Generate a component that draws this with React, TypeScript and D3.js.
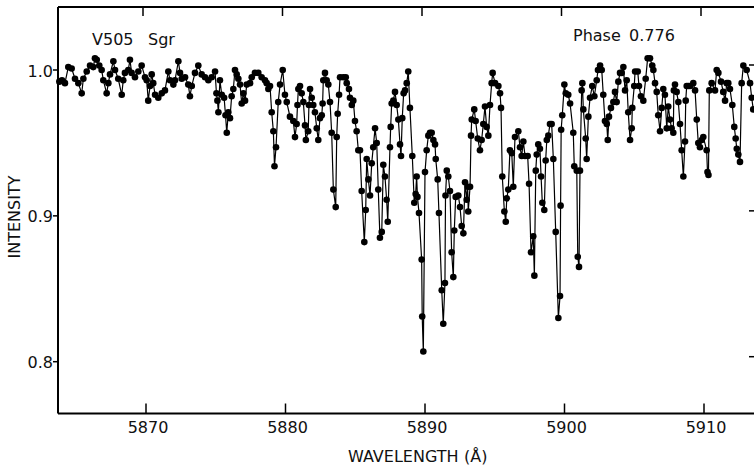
import React from 'react';
import * as d3 from 'd3';

// wavelength (Å), relative intensity
const spectrum: [number, number][] = [
  [5863.79,0.992],[5863.98,0.993],[5864.19,0.991],[5864.43,1.002],[5864.67,1.001],[5864.91,0.994],[5865.15,0.991],[5865.39,0.984],
  [5865.51,0.994],[5865.75,0.999],[5865.99,1.003],[5866.22,1.002],[5866.34,1.008],[5866.47,1.007],[5866.65,1.003],[5866.82,1.000],
  [5866.94,0.993],[5867.18,0.984],[5867.30,0.991],[5867.42,0.997],[5867.66,1.006],[5867.78,1.000],[5868.01,0.994],[5868.26,0.983],
  [5868.37,0.993],[5868.49,0.998],[5868.73,1.000],[5868.85,1.007],[5868.97,0.998],[5869.21,0.995],[5869.45,0.999],[5869.69,1.003],
  [5869.93,0.995],[5870.05,0.993],[5870.16,0.979],[5870.29,0.989],[5870.41,0.997],[5870.52,0.991],[5870.65,0.983],[5870.88,0.981],
  [5871.13,0.984],[5871.36,0.986],[5871.60,0.999],[5871.72,0.993],[5871.96,0.990],[5872.08,0.993],[5872.32,1.006],[5872.44,0.998],
  [5872.56,0.994],[5872.80,0.995],[5873.03,0.990],[5873.15,0.982],[5873.28,0.989],[5873.51,0.998],[5873.75,1.003],[5873.99,0.997],
  [5874.23,0.995],[5874.47,0.993],[5874.71,0.995],[5874.95,0.999],[5875.05,0.984],[5875.12,0.979],[5875.19,0.971],[5875.30,0.993],
  [5875.43,0.983],[5875.60,0.981],[5875.70,0.969],[5875.79,0.957],[5875.90,0.971],[5876.02,0.967],[5876.14,0.982],[5876.26,0.987],
  [5876.38,1.000],[5876.50,0.997],[5876.62,0.994],[5876.74,0.990],[5876.86,0.977],[5876.98,0.984],[5877.10,0.979],[5877.22,0.990],
  [5877.46,0.991],[5877.58,0.995],[5877.81,0.998],[5878.05,0.998],[5878.29,0.995],[5878.53,0.993],[5878.65,0.991],[5878.77,0.987],
  [5878.89,0.989],[5879.01,0.971],[5879.13,0.958],[5879.21,0.934],[5879.32,0.947],[5879.48,0.978],[5879.61,0.990],[5879.80,1.000],
  [5879.96,0.983],[5880.09,0.978],[5880.32,0.968],[5880.56,0.965],[5880.68,0.954],[5880.80,0.963],[5880.86,0.976],[5880.92,0.987],
  [5881.04,0.989],[5881.16,0.984],[5881.28,0.978],[5881.40,0.962],[5881.46,0.952],[5881.63,0.958],[5881.68,0.976],[5881.76,0.987],
  [5881.88,0.981],[5881.99,0.976],[5882.11,0.971],[5882.24,0.960],[5882.35,0.952],[5882.47,0.967],[5882.60,0.969],[5882.66,0.977],
  [5882.71,0.993],[5882.83,0.998],[5882.95,0.993],[5883.07,0.990],[5883.19,0.978],[5883.31,0.957],[5883.43,0.918],[5883.60,0.906],
  [5883.67,0.954],[5883.74,0.970],[5883.84,0.983],[5883.91,0.995],[5884.14,0.995],[5884.32,0.995],[5884.39,0.991],[5884.55,0.987],
  [5884.62,0.981],[5884.75,0.976],[5884.86,0.979],[5884.98,0.965],[5885.10,0.958],[5885.22,0.945],[5885.34,0.945],[5885.46,0.917],
  [5885.65,0.882],[5885.75,0.904],[5885.82,0.939],[5885.94,0.925],[5886.06,0.914],[5886.18,0.936],[5886.29,0.947],[5886.42,0.960],
  [5886.54,0.950],[5886.65,0.918],[5886.77,0.885],[5886.90,0.889],[5887.01,0.935],[5887.13,0.927],[5887.25,0.911],[5887.33,0.896],
  [5887.49,0.947],[5887.54,0.961],[5887.61,0.977],[5887.73,0.979],[5887.85,0.985],[5887.97,0.976],[5888.09,0.966],[5888.21,0.949],
  [5888.28,0.941],[5888.37,0.967],[5888.47,0.984],[5888.57,0.986],[5888.69,0.991],[5888.80,0.999],[5888.92,0.974],[5889.09,0.941],
  [5889.23,0.909],[5889.33,0.915],[5889.40,0.927],[5889.46,0.913],[5889.57,0.902],[5889.76,0.870],[5889.80,0.831],[5889.88,0.807],
  [5890.00,0.930],[5890.12,0.945],[5890.24,0.955],[5890.36,0.957],[5890.48,0.957],[5890.60,0.952],[5890.72,0.949],[5890.77,0.939],
  [5890.91,0.925],[5891.00,0.902],[5891.20,0.849],[5891.31,0.826],[5891.43,0.854],[5891.47,0.914],[5891.56,0.931],[5891.67,0.927],
  [5891.79,0.917],[5891.91,0.875],[5892.03,0.858],[5892.10,0.890],[5892.20,0.913],[5892.39,0.914],[5892.51,0.906],[5892.63,0.893],
  [5892.75,0.888],[5892.87,0.923],[5892.99,0.911],[5893.06,0.920],[5893.10,0.903],[5893.23,0.920],[5893.30,0.955],[5893.35,0.966],
  [5893.53,0.973],[5893.63,0.965],[5893.78,0.953],[5893.94,0.945],[5894.06,0.952],[5894.18,0.963],[5894.30,0.975],[5894.42,0.961],
  [5894.54,0.955],[5894.66,0.976],[5894.78,0.991],[5894.85,0.998],[5895.02,0.991],[5895.26,0.989],[5895.38,0.984],[5895.45,0.974],
  [5895.54,0.927],[5895.69,0.903],[5895.79,0.896],[5895.86,0.912],[5895.97,0.918],[5896.09,0.945],[5896.22,0.943],[5896.33,0.920],
  [5896.45,0.954],[5896.69,0.958],[5896.81,0.947],[5896.93,0.941],[5897.05,0.951],[5897.17,0.941],[5897.36,0.941],[5897.46,0.922],
  [5897.60,0.875],[5897.76,0.886],[5897.84,0.859],[5897.94,0.931],[5898.01,0.942],[5898.12,0.949],[5898.24,0.946],[5898.32,0.927],
  [5898.41,0.909],[5898.55,0.904],[5898.65,0.938],[5898.73,0.952],[5898.84,0.955],[5898.96,0.963],[5899.08,0.963],[5899.20,0.939],
  [5899.37,0.889],[5899.56,0.830],[5899.68,0.845],[5899.72,0.907],[5899.76,0.959],[5899.84,0.969],[5899.99,0.990],[5900.09,0.984],
  [5900.27,0.983],[5900.40,0.977],[5900.63,0.957],[5900.70,0.934],[5900.88,0.931],[5900.95,0.872],[5901.04,0.865],[5901.11,0.931],
  [5901.23,0.986],[5901.28,0.991],[5901.35,0.973],[5901.52,0.953],[5901.59,0.939],[5901.71,0.968],[5901.83,0.981],[5901.99,0.989],
  [5902.14,0.982],[5902.31,0.993],[5902.40,1.000],[5902.55,1.003],[5902.67,1.000],[5902.78,0.983],[5902.90,0.965],[5903.03,0.963],
  [5903.10,0.952],[5903.19,0.968],[5903.33,0.974],[5903.50,0.978],[5903.62,0.985],[5903.74,0.978],[5903.86,0.992],[5903.98,0.998],
  [5904.10,0.998],[5904.22,1.002],[5904.34,0.986],[5904.46,0.993],[5904.57,0.971],[5904.70,0.952],[5904.82,0.960],[5904.86,0.974],
  [5905.00,0.989],[5905.06,0.999],[5905.25,0.999],[5905.34,0.989],[5905.48,0.982],[5905.65,0.979],[5905.82,0.994],[5905.96,1.008],
  [5906.13,1.008],[5906.29,1.003],[5906.37,1.000],[5906.49,0.991],[5906.61,0.985],[5906.72,0.969],[5906.85,0.958],[5906.97,0.974],
  [5907.08,0.987],[5907.20,0.983],[5907.33,0.960],[5907.44,0.975],[5907.56,0.966],[5907.68,0.960],[5907.80,0.957],[5907.84,0.986],
  [5907.92,0.990],[5908.04,0.985],[5908.16,0.978],[5908.28,0.963],[5908.40,0.945],[5908.52,0.927],[5908.64,0.951],[5908.69,0.979],
  [5908.76,0.989],[5908.88,0.989],[5909.00,0.989],[5909.23,0.991],[5909.36,0.986],[5909.48,0.966],[5909.59,0.950],[5909.71,0.947],
  [5909.84,0.952],[5909.95,0.954],[5910.19,0.945],[5910.25,0.930],[5910.32,0.928],[5910.38,0.986],[5910.55,0.991],[5910.79,0.986],
  [5910.91,1.000],[5911.03,0.998],[5911.22,0.992],[5911.38,0.985],[5911.51,0.979],[5911.63,0.991],[5911.74,0.991],[5911.86,0.987],
  [5912.03,0.976],[5912.17,0.961],[5912.27,0.953],[5912.35,0.946],[5912.46,0.942],[5912.58,0.937],[5912.70,0.991],[5912.82,1.003],
  [5913.06,1.000],[5913.30,0.991],[5913.42,0.981],[5913.53,0.973],
];

const xTicks = [5870, 5880, 5890, 5900, 5910];
const yTicks = [0.8, 0.9, 1.0];
const yTickLabels = ['0.8', '0.9', '1.0'];

const W = 754;
const H = 466;
const left = 58;
const top = 7;
const bottom = 413.5;
const right = 754;

const App: React.FC = () => {
  const x = d3.scaleLinear([5870, 5910], [146, 704]);
  const y = d3.scaleLinear([0.8, 1.0], [361.7, 70]);

  const line = d3.line<[number, number]>()
    .x(d => x(d[0]))
    .y(d => y(d[1]));

  const font = { fontFamily: '"DejaVu Sans", sans-serif', fontSize: 16, fill: '#111' };

  return (
    <svg width={W} height={H} style={{ position: 'absolute', left: 0, top: 0, background: '#fff' }}>
      {/* frame */}
      <line x1={left} y1={top} x2={left} y2={bottom} stroke="#000" strokeWidth={2} />
      <line x1={left} y1={bottom} x2={right} y2={bottom} stroke="#000" strokeWidth={2} />
      <line x1={left} y1={top} x2={right} y2={top} stroke="#000" strokeWidth={2} />

      {xTicks.map(t => (
        <g key={t}>
          <line x1={x(t)} x2={x(t)} y1={bottom} y2={bottom - 10} stroke="#000" strokeWidth={1.5} />
          <line x1={x(t) - 3} x2={x(t) - 3} y1={top} y2={top + 9} stroke="#000" strokeWidth={1.5} />
          <text x={x(t) + 2} y={433} textAnchor="middle" {...font}>{t}</text>
        </g>
      ))}

      {yTicks.map((t, i) => (
        <g key={t}>
          <line x1={left - 5} x2={left} y1={y(t)} y2={y(t)} stroke="#000" strokeWidth={1.5} />
          <line x1={right - 5} x2={right} y1={y(t) - 5} y2={y(t) - 5} stroke="#000" strokeWidth={1.5} />
          <text x={53} y={y(t) + 6.5} textAnchor="end" {...font}>{yTickLabels[i]}</text>
        </g>
      ))}

      <text x={20} y={217} transform="rotate(-90 20 217)" textAnchor="middle" {...font}>INTENSITY</text>
      <text x={348} y={461.5} {...font}>WAVELENGTH</text>
      <text x={464} y={461.5} {...font}>(Å)</text>

      <text x={92} y={45} {...font}>V505</text>
      <text x={148} y={45} {...font}>Sgr</text>
      <text x={573} y={41} {...font}>Phase</text>
      <text x={629} y={41} {...font}>0.776</text>

      {/* spectrum */}
      <path d={line(spectrum) ?? ''} fill="none" stroke="#000" strokeWidth={1.2} />
      {spectrum.map((d, i) => (
        <circle key={i} cx={x(d[0])} cy={y(d[1])} r={3.3} fill="#000" />
      ))}
    </svg>
  );
};

export default App;
